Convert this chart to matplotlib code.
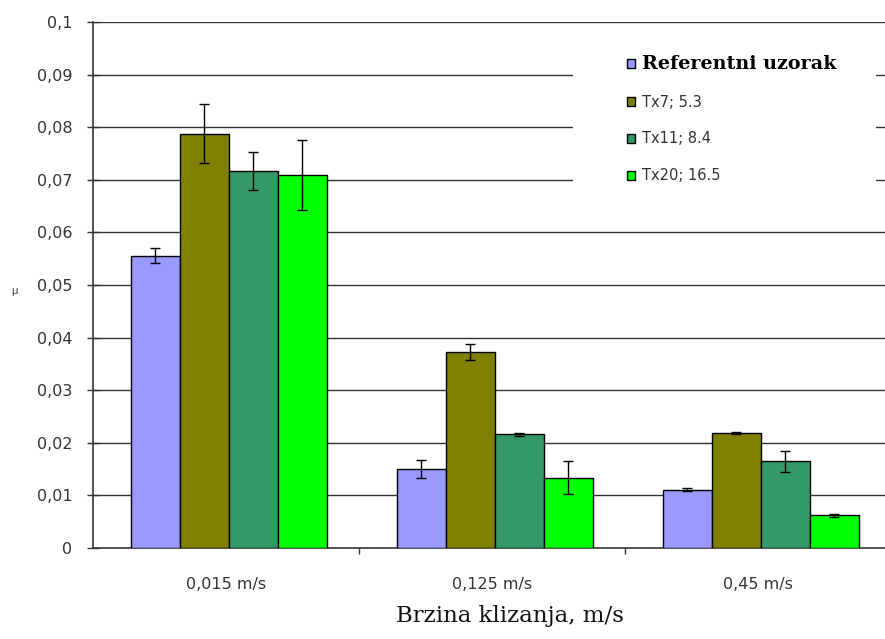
import matplotlib
matplotlib.use("Agg")
import matplotlib.pyplot as plt
import numpy as np
from matplotlib.ticker import FixedLocator, FuncFormatter
from matplotlib.patches import Rectangle

categories = ["0,015 m/s", "0,125 m/s", "0,45 m/s"]
series_names = ["Referentni uzorak", "Tx7; 5.3", "Tx11; 8.4", "Tx20; 16.5"]
ref_vals = [0.0556, 0.0150, 0.0111]
tx7_vals = [0.0788, 0.0373, 0.0219]
tx11_vals = [0.0717, 0.0216, 0.0165]
tx20_vals = [0.0709, 0.0134, 0.0062]
ref_err = [0.0015, 0.0017, 0.0003]
tx7_err = [0.0056, 0.0015, 0.0002]
tx11_err = [0.0036, 0.0003, 0.0020]
tx20_err = [0.0067, 0.0031, 0.0003]
colors = ["#9999FF", "#808000", "#339966", "#00FF00"]
y_ticks = [0, 0.01, 0.02, 0.03, 0.04, 0.05, 0.06, 0.07, 0.08, 0.09, 0.1]

values = [ref_vals, tx7_vals, tx11_vals, tx20_vals]
errors = [ref_err, tx7_err, tx11_err, tx20_err]

W, H = 885, 639
fig = plt.figure(figsize=(W / 100, H / 100), dpi=100)
left, right, bottom, top = 93, 891, 548, 22
ax = fig.add_axes([left / W, 1 - bottom / H, (right - left) / W, (bottom - top) / H])

x = np.arange(len(categories))
bw = 0.184
for i, (vals, errs, c, name) in enumerate(zip(values, errors, colors, series_names)):
    pos = x + (i - 1.5) * bw + 0.01
    ax.bar(pos, vals, width=bw, color=c, edgecolor="black", linewidth=1.0, label=name, zorder=3)
    ax.errorbar(pos, vals, yerr=errs, fmt="none", ecolor="black", elinewidth=1.0,
                capsize=3.8, capthick=1.0, zorder=4)

ax.set_xlim(-0.5, 2.5)
ax.set_ylim(0, 0.1)
ax.yaxis.set_major_locator(FixedLocator(y_ticks))
ax.yaxis.set_major_formatter(FuncFormatter(lambda v, p: ("%g" % round(v, 3)).replace(".", ",")))
for yv in y_ticks[1:]:
    ax.axhline(yv, color="#333333", linewidth=1.0, zorder=1)

# white legend area hiding the gridlines
ax.add_patch(Rectangle((573 / W, 1 - 212 / H), (876 - 573) / W, (212 - 32) / H,
                       transform=fig.transFigure, facecolor="white", edgecolor="none",
                       zorder=2, clip_on=False))

ax.set_xticks(x)
ax.set_xticklabels(categories, family="DejaVu Sans", fontsize=11.5, color="#333333")
ax.xaxis.set_minor_locator(FixedLocator([0.5, 1.5]))
ax.tick_params(axis="x", which="major", length=0, pad=21)
ax.tick_params(axis="x", which="minor", length=4, direction="out", width=1, color="#333333")
ax.tick_params(axis="y", length=8, direction="inout", width=1, color="#333333", pad=11)
for lbl in ax.get_yticklabels():
    lbl.set_family("DejaVu Sans")
    lbl.set_fontsize(11.5)
    lbl.set_color("#333333")

for s in ["top", "right"]:
    ax.spines[s].set_visible(False)
ax.spines["left"].set_color("#333333")
ax.spines["bottom"].set_color("#333333")
ax.spines["left"].set_linewidth(1.2)
ax.spines["bottom"].set_linewidth(1.2)

fig.text(15 / W, 1 - 291 / H, "μ", fontsize=8, color="#444444", va="center", ha="center",
         family="Liberation Sans", rotation=0)
fig.text(510 / W, 1 - 616 / H, "Brzina klizanja, m/s", fontsize=16.5, family="DejaVu Serif",
         ha="center", va="center", color="#111111")

leg = ax.legend(loc="upper left", bbox_to_anchor=(615 / W, 1 - 43 / H), bbox_transform=fig.transFigure,
                frameon=False, handlelength=0.6, handleheight=0.6, handletextpad=0.45,
                labelspacing=1.5, borderpad=0.3,
                prop={"family": "DejaVu Sans", "size": 10.5})
leg.set_zorder(5)
texts = leg.get_texts()
texts[0].set_fontfamily("DejaVu Serif")
texts[0].set_fontweight("bold")
texts[0].set_fontsize(13.8)
for t in texts[1:]:
    t.set_color("#333333")

fig.savefig("out.png", dpi=100)
